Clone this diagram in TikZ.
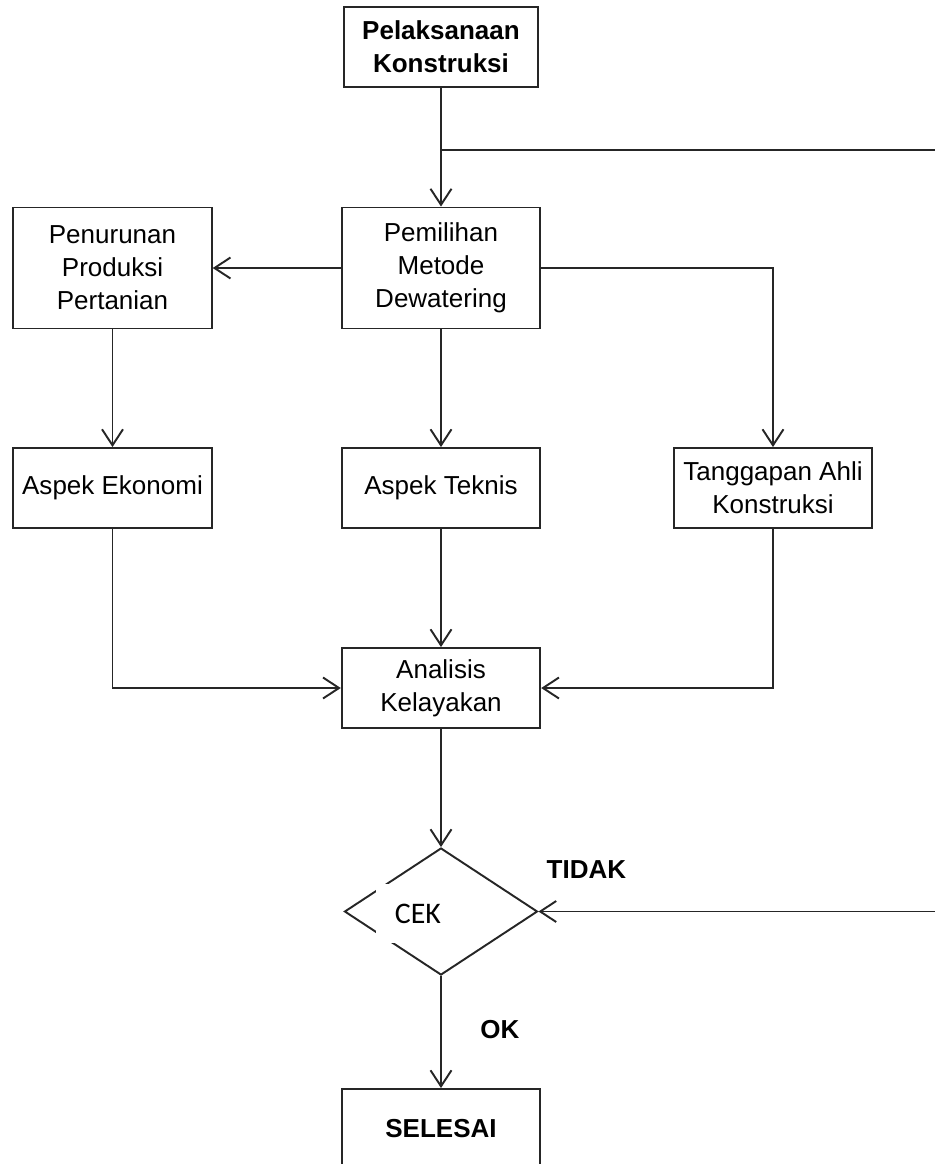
\documentclass[tikz,border=0pt]{standalone}
\usepackage{fontspec}
\setmainfont{Liberation Sans}
\newfontfamily\calibrifont{Carlito}
\usetikzlibrary{arrows.meta}
\usetikzlibrary{calc}
\usetikzlibrary{positioning}
\usetikzlibrary{shapes}

\begin{document}
\begin{tikzpicture}[node distance=4.4cm,
  every node/.style={font=\fontsize{14.8pt}{18.8pt}\selectfont},
  bold/.style={font=\fontsize{14.8pt}{18.8pt}\selectfont\bfseries},
  box/.style={draw=black!85,line width=1.1pt,minimum width=3.97cm,minimum height=1.6cm,align=center,inner sep=0pt},
  tallbox/.style={box,minimum height=2.42cm},
  decision/.style={draw=black!85,line width=1.1pt,diamond,minimum width=3.86cm,minimum height=2.54cm,inner sep=0pt},
  cekbox/.style={fill=white,inner xsep=0.38cm,minimum height=1.18cm,font=\calibrifont\fontsize{17pt}{19pt}\selectfont},
  arr/.style={draw=black!85,line width=1.1pt,-{Straight Barb[length=3.2mm,width=4.2mm]}}]
          \useasboundingbox (0,0) rectangle (18.7,-23.28);
          \clip (0,0) rectangle (18.7,-23.28);
          \node[box,bold,minimum width=3.88cm] (pelaksanaan) at (8.82,-0.94) {Pelaksanaan\\Konstruksi};
          \node[tallbox,below of=pelaksanaan,node distance=4.42cm] (pemilihan) {Pemilihan\\Metode\\Dewatering};
          \node[tallbox,left of=pemilihan,node distance=6.57cm] (penurunan) {Penurunan\\Produksi\\Pertanian};
          \node[box,below of=penurunan] (aspekEkonomi) {Aspek Ekonomi};
          \node[box,below of=pemilihan] (aspekTeknis) {Aspek Teknis};
          \node[box,right of=aspekTeknis,node distance=6.64cm] (tanggapanAhli) {Tanggapan Ahli\\Konstruksi};
          \node[box,below of=aspekTeknis,node distance=4cm] (analisis) {Analisis\\Kelayakan};
          \node[decision,below of=analisis,node distance=4.47cm] (cek) {};
          \node[cekbox,anchor=west] (cekLabel) at ([xshift=0.64cm,yshift=-0.04cm]cek.west) {CEK};
          \node[box,bold,below of=cek,node distance=4.35cm] (selesai) {SELESAI};
          \node[bold] (tidak) at ([xshift=0.96cm,yshift=0.83cm]cek.east) {TIDAK};
          \node[bold] (ok) at ([xshift=1.18cm,yshift=-1.08cm]cek.south) {OK};
          \coordinate (cabang) at ($(pelaksanaan.south)!0.52!(pemilihan.north)$);
          \coordinate (loopAtas) at (19.2,0 |- cabang);
          \coordinate (loopBawah) at (19.2,0 |- cek.east);
          \draw[arr] (pelaksanaan) -- (pemilihan);
          \draw[arr] (cabang) -- (loopAtas) -- (loopBawah) -- (cek.east);
          \draw[arr] (pemilihan) -- (penurunan);
          \draw[arr] (pemilihan.east) -| (tanggapanAhli.north);
          \draw[arr] (penurunan) -- (aspekEkonomi);
          \draw[arr] (pemilihan) -- (aspekTeknis);
          \draw[arr] (aspekEkonomi.south) |- (analisis.west);
          \draw[arr] (aspekTeknis) -- (analisis);
          \draw[arr] (tanggapanAhli.south) |- (analisis.east);
          \draw[arr] (analisis) -- (cek);
          \draw[arr] (cek) -- (selesai);
        \end{tikzpicture}
\end{document}
